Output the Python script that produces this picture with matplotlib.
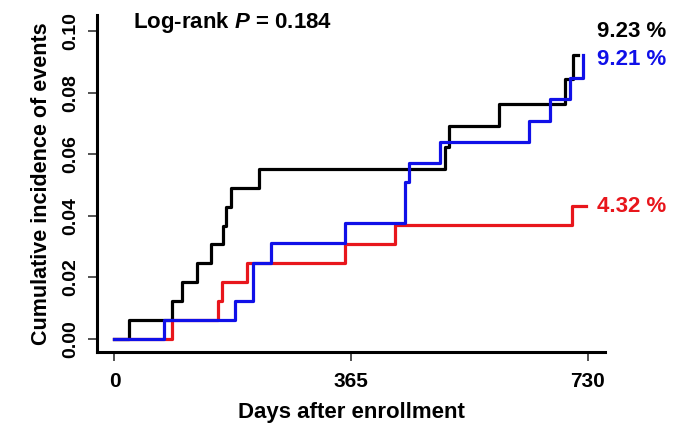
import matplotlib
matplotlib.use("Agg")
import matplotlib.pyplot as plt

plt.rcParams['font.family'] = ['Liberation Sans', 'DejaVu Sans']
plt.rcParams['font.weight'] = 'bold'
plt.rcParams['mathtext.fontset'] = 'custom'
plt.rcParams['mathtext.it'] = 'Liberation Sans:italic:bold'
plt.rcParams['mathtext.rm'] = 'Liberation Sans:bold'

# Step data (days, cumulative incidence)
black_t = [0, 23, 89, 104, 128, 149, 168, 172, 180, 223, 510, 516, 594, 695, 707, 716]
black_v = [0, 0.0062, 0.0123, 0.0185, 0.0247, 0.0309, 0.0368, 0.0430, 0.0491, 0.0553, 0.0624, 0.0692, 0.0763, 0.0844, 0.0923, 0.0923]

blue_t = [0, 76, 186, 214, 242, 355, 448, 454, 503, 640, 672, 703, 723, 723]
blue_v = [0, 0.0061, 0.0123, 0.0247, 0.0313, 0.0378, 0.0511, 0.0573, 0.0641, 0.0708, 0.0778, 0.0848, 0.0921, 0.0921]

red_t = [0, 89, 159, 166, 204, 355, 433, 706, 727]
red_v = [0, 0.0062, 0.0123, 0.0185, 0.0247, 0.0309, 0.0370, 0.0432, 0.0432]

x_ticks = [0, 365, 730]
y_ticks = [0.00, 0.02, 0.04, 0.06, 0.08, 0.10]
y_ticklabels = ["0.00", "0.02", "0.04", "0.06", "0.08", "0.10"]

end_labels = ["9.23 %", "9.21 %", "4.32 %"]
end_label_y = [0.0997, 0.0906, 0.0429]

BLACK = '#000000'
BLUE = '#1010E8'
RED = '#E8161C'

fig = plt.figure(figsize=(6.75, 4.26), dpi=100)
ax = fig.add_axes([97/675, 1 - 352/426, 508/675, 337/426])

lw = 2.3
ax.step(black_t, black_v, where='post', color=BLACK, lw=lw)
ax.step(red_t, red_v, where='post', color=RED, lw=lw)
ax.step(blue_t, blue_v, where='post', color=BLUE, lw=lw)

ax.set_xlim(-27, 757)
ax.set_ylim(-0.0042, 0.1052)

for s in ['top', 'right']:
    ax.spines[s].set_visible(False)
for s in ['left', 'bottom']:
    ax.spines[s].set_linewidth(2.2)

ax.set_xticks(x_ticks)
ax.set_xticklabels([str(t) for t in x_ticks])
ax.set_yticks(y_ticks)
ax.set_yticklabels(y_ticklabels, rotation=90, va='center')
ax.tick_params(axis='both', direction='out', length=6.5, width=1.2, color='#333333')
ax.tick_params(axis='x', labelsize=15, pad=8)
ax.tick_params(axis='y', labelsize=14, pad=6)

ax.set_xlabel("Days after enrollment", fontsize=16, fontweight='bold', labelpad=8)
ax.set_ylabel("Cumulative incidence of events", fontsize=15.5, fontweight='bold', labelpad=8)

ax.text(0.266, 0.977, r"Log-rank $P$ = 0.184", transform=ax.transAxes, ha='center', va='center',
        fontsize=16, fontweight='bold')

for lab, yv, col in zip(end_labels, end_label_y, [BLACK, BLUE, RED]):
    ax.text(745, yv, lab, ha='left', va='center', fontsize=16, fontweight='bold', color=col, clip_on=False)

fig.savefig("out.png", dpi=100)
